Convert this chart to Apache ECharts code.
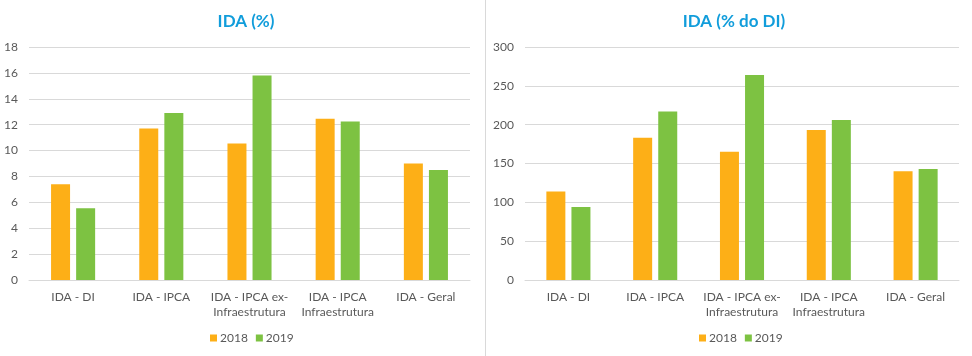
<!DOCTYPE html>
<html>
<head>
<meta charset="utf-8">
<script src="https://cdn.jsdelivr.net/npm/echarts@6/dist/echarts.min.js"></script>
<style>
html,body{margin:0;padding:0;background:#fff;}
#c{width:972px;height:356px;}
</style>
</head>
<body>
<div id="c"></div>
<script>
const categories = ['IDA - DI', 'IDA - IPCA', 'IDA - IPCA ex-\nInfraestrutura', 'IDA - IPCA\nInfraestrutura', 'IDA - Geral'];
const seriesNames = ['2018', '2019'];
const pct2018 = [7.4, 11.7, 10.55, 12.45, 9.0];
const pct2019 = [5.55, 12.9, 15.8, 12.25, 8.5];
const pctDI2018 = [114, 183, 165, 193, 140];
const pctDI2019 = [94, 217, 264, 206, 143];
const titles = ['IDA (%)', 'IDA (% do DI)'];
const yTicks1 = {min: 0, max: 18, interval: 2};
const yTicks2 = {min: 0, max: 300, interval: 50};

const FONT = 'Lato';
const colors = ['#FDAF17', '#7DC242'];
const chart = echarts.init(document.getElementById('c'), null, {renderer: 'canvas'});

function xAxis(idx) {
  return {
    type: 'category', gridIndex: idx, data: categories,
    axisLine: {lineStyle: {color: '#D9D9D9'}},
    axisTick: {show: false},
    axisLabel: {color: '#595959', fontFamily: FONT, fontSize: 12, margin: 10, lineHeight: 15, interval: 0}
  };
}
function yAxis(idx, t) {
  return {
    type: 'value', gridIndex: idx, min: t.min, max: t.max, interval: t.interval,
    axisLine: {show: false}, axisTick: {show: false},
    splitLine: {lineStyle: {color: '#D9D9D9'}},
    axisLabel: {color: '#595959', fontFamily: FONT, fontSize: 12, margin: 11}
  };
}
function bar(name, data, idx, ci) {
  return {
    name: name, type: 'bar', xAxisIndex: idx, yAxisIndex: idx, data: data,
    barWidth: 19, barGap: '32%',
    itemStyle: {color: colors[ci]}
  };
}

chart.setOption({
  animation: false,
  color: colors,
  title: [
    {text: titles[0], left: 241, top: 8, textAlign: 'center',
     textStyle: {color: '#119DDB', fontFamily: FONT, fontWeight: 'bold', fontSize: 17}},
    {text: titles[1], left: 729, top: 8, textAlign: 'center',
     textStyle: {color: '#119DDB', fontFamily: FONT, fontWeight: 'bold', fontSize: 17}}
  ],
  legend: [
    {data: seriesNames, left: 205, top: 327, itemWidth: 7, itemHeight: 7, itemGap: 8, icon: 'rect',
     textStyle: {color: '#595959', fontFamily: FONT, fontSize: 12, padding: [0,0,0,-2]}},
    {data: seriesNames, left: 694, top: 327, itemWidth: 7, itemHeight: 7, itemGap: 8, icon: 'rect',
     textStyle: {color: '#595959', fontFamily: FONT, fontSize: 12, padding: [0,0,0,-2]}}
  ],
  grid: [
    {left: 29, right: 502, top: 47, bottom: 76},
    {left: 525, right: 13, top: 47, bottom: 76}
  ],
  xAxis: [xAxis(0), xAxis(1)],
  yAxis: [yAxis(0, yTicks1), yAxis(1, yTicks2)],
  series: [
    bar(seriesNames[0], pct2018, 0, 0),
    bar(seriesNames[1], pct2019, 0, 1),
    bar(seriesNames[0], pctDI2018, 1, 0),
    bar(seriesNames[1], pctDI2019, 1, 1)
  ],
  graphic: [
    {type: 'line', shape: {x1: 485.5, y1: 0, x2: 485.5, y2: 356}, style: {stroke: '#D9D9D9', lineWidth: 1}}
  ]
});
</script>
</body>
</html>
